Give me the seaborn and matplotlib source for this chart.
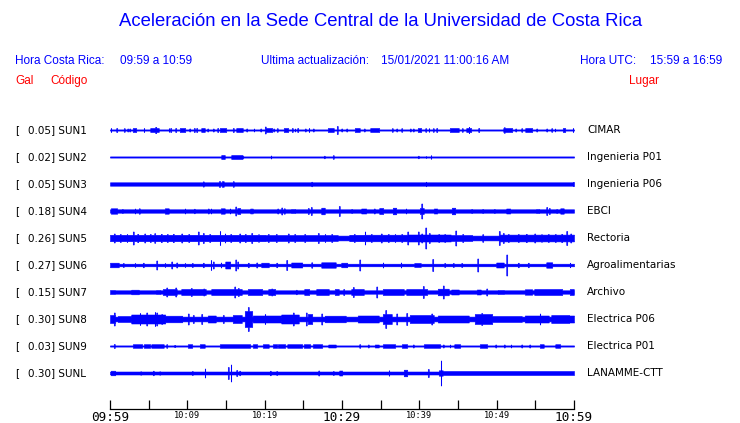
import numpy as np
import matplotlib
matplotlib.use("Agg")
import matplotlib.pyplot as plt
import seaborn as sns

# =========================
# Data
# =========================
TITLE = "Aceleración en la Sede Central de la Universidad de Costa Rica"
LOCAL_LABEL = "Hora Costa Rica:"
LOCAL_RANGE = "09:59 a 10:59"
UPDATE_LABEL = "Ultima actualización:"
UPDATE_TIME = "15/01/2021 11:00:16 AM"
UTC_LABEL = "Hora UTC:"
UTC_RANGE = "15:59 a 16:59"

codes = ["SUN1", "SUN2", "SUN3", "SUN4", "SUN5", "SUN6", "SUN7", "SUN8", "SUN9", "SUNL"]
gal_max = [0.05, 0.02, 0.05, 0.18, 0.26, 0.27, 0.15, 0.30, 0.03, 0.30]
places = ["CIMAR", "Ingenieria P01", "Ingenieria P06", "EBCI", "Rectoria",
          "Agroalimentarias", "Archivo", "Electrica P06", "Electrica P01", "LANAMME-CTT"]

# minutes after 09:59
tick_minutes = list(range(0, 61, 5))
tick_labels = ["09:59", "", "10:09", "", "10:19", "", "10:29", "", "10:39", "", "10:49", "", "10:59"]
big_labels = ["09:59", "10:29", "10:59"]

# background half-amplitude of each trace (relative counts)
floors = [0.6, 0.6, 1.7, 1.7, 2.4, 1.3, 1.7, 2.4, 0.6, 1.5]

# bursts: (start minute, end minute, half-amplitude)
bursts_sun1 = [
    (0.13, 0.13, 2), (0.86, 0.86, 2), (1.85, 1.85, 1.8), (2.28, 2.28, 1.5), (2.58, 2.58, 1.5),
    (3.0, 3.35, 2), (4.4, 4.4, 2), (5.25, 6.25, 2), (5.9, 5.9, 3.2), (7.63, 7.63, 1.8),
    (7.85, 7.85, 2), (8.49, 8.49, 2), (9.05, 9.7, 2), (10.3, 10.3, 1.5), (10.9, 10.9, 2),
    (11.2, 11.2, 2), (11.85, 12.2, 2), (12.63, 12.63, 1.5), (13.36, 13.36, 1.5), (13.92, 13.92, 2),
    (14.22, 14.95, 2), (15.95, 15.95, 2), (16.38, 17.11, 2), (17.67, 17.67, 1.5), (18.62, 18.62, 1.5),
    (19.52, 19.52, 1.5), (20.04, 20.9, 2), (20.08, 20.08, 3.5), (21.2, 21.2, 1.5), (21.6, 21.6, 1.8),
    (22.5, 23.0, 2), (23.57, 23.57, 2), (23.92, 23.92, 1.5), (24.27, 24.27, 2), (25.26, 25.26, 1.5),
    (25.73, 25.73, 2), (26.3, 26.3, 1.5), (28.23, 28.88, 2), (29.4, 29.4, 4), (29.95, 29.95, 1.5),
    (30.6, 30.6, 1.5), (31.68, 32.24, 2), (32.9, 32.9, 1.5), (33.71, 34.78, 2), (36.5, 36.5, 1.8),
    (37.07, 37.07, 1.5), (37.7, 37.7, 1.8), (38.8, 38.8, 1.5), (39.2, 39.2, 1.5), (39.87, 40.17, 2),
    (40.82, 40.82, 1.8), (41.25, 41.25, 1.8), (41.81, 41.81, 1.8), (42.24, 42.24, 2), (43.97, 45.04, 2),
    (45.56, 45.56, 1.8), (46.12, 46.68, 2), (46.42, 46.42, 3.2), (47.71, 47.71, 2), (50.9, 51.94, 2),
    (51.0, 51.0, 2.8), (52.46, 52.46, 1.5), (53.23, 53.23, 1.8), (53.75, 54.53, 2), (55.17, 55.17, 1.5),
    (56.46, 56.46, 1.5), (57.11, 57.11, 1.8), (57.54, 57.54, 1.5), (58.62, 58.62, 2), (58.83, 58.83, 2),
    (59.87, 59.87, 2),
]
bursts_sun2 = [
    (14.44, 14.78, 2), (15.73, 16.4, 2), (16.5, 17.03, 2), (17.15, 17.15, 1.5), (20.82, 20.82, 1.5),
    (27.7, 27.7, 1.3), (28.88, 28.88, 1.8), (39.87, 39.87, 1.3), (40.86, 40.86, 1.0), (41.51, 41.51, 1.8),
]
bursts_sun3 = [
    (12.07, 12.07, 2.6), (14.14, 14.2, 2.8), (14.5, 14.65, 2.8), (15.95, 15.95, 2.8),
    (26.08, 26.08, 2.3), (40.86, 40.86, 2.3), (59.9, 59.9, 2.2),
]
bursts_sun4 = [
    (0.13, 0.86, 2.7), (1.6, 1.6, 2), (3.23, 3.23, 2.5), (3.79, 3.79, 2.7), (7.11, 7.54, 2.7),
    (9.7, 9.7, 2.5), (10.9, 10.9, 2.3), (12.7, 12.7, 2.5), (13.06, 13.06, 2.5), (14.35, 14.78, 2.7),
    (15.52, 15.52, 2.5), (16.25, 16.25, 4.5), (16.5, 16.8, 3), (18.19, 18.19, 2.5), (18.4, 18.4, 2.5),
    (21.68, 21.68, 2.5), (22.2, 22.2, 3.5), (22.54, 22.54, 2.7), (23.5, 23.9, 2), (25.65, 25.65, 3),
    (26.0, 26.0, 4), (27.37, 27.7, 3.3), (29.65, 29.65, 5), (31.25, 31.25, 2), (32.54, 33.06, 2.5),
    (34.18, 34.18, 2.5), (34.9, 35.3, 3), (36.64, 36.98, 3.3), (38.28, 38.28, 2.5), (40.09, 40.52, 3),
    (40.3, 40.3, 7.5), (41.9, 42.24, 2.5), (44.27, 44.6, 3.3), (46.77, 46.77, 2), (48.19, 48.19, 2),
    (49.7, 49.7, 2), (51.3, 51.72, 2.5), (55.17, 55.47, 2), (56.46, 56.46, 4), (56.81, 56.81, 3),
    (57.76, 57.76, 2), (58.3, 58.62, 2.7),
]
bursts_sun5 = [
    (0.0, 11.0, 3.2), (0.56, 0.56, 4.5), (1.3, 1.3, 4), (2.2, 2.2, 4), (3.02, 3.02, 6.5),
    (3.6, 3.6, 4.2), (4.5, 4.5, 4.5), (5.2, 5.2, 4), (5.8, 5.8, 4.8), (6.6, 6.6, 4.2),
    (7.4, 7.4, 4), (8.2, 8.2, 4.2), (9.3, 9.3, 4.5), (10.2, 10.2, 4),
    (11.0, 20.0, 3.2), (11.42, 11.42, 6.5), (12.07, 12.07, 5), (12.9, 12.9, 4), (14.22, 14.22, 7),
    (14.87, 14.87, 4.5), (15.6, 15.6, 4), (16.8, 16.8, 4.5), (17.5, 17.5, 4), (18.32, 18.32, 5),
    (19.2, 19.2, 4),
    (20.0, 29.4, 3.0), (20.47, 20.47, 4), (21.5, 21.5, 4), (23.06, 23.06, 4.5), (23.9, 23.9, 4),
    (25.2, 25.2, 4), (26.94, 26.94, 5), (27.8, 27.8, 4), (28.66, 28.66, 4),
    (31.0, 32.8, 3.2), (31.6, 31.6, 4), (32.97, 32.97, 6.5),
    (33.0, 38.5, 3.3), (33.8, 33.8, 4), (35.1, 35.1, 4.5), (36.0, 36.0, 4), (36.85, 36.85, 4),
    (37.7, 37.7, 4), (38.49, 38.49, 6.5),
    (38.5, 44.0, 3.5), (39.87, 39.87, 6.5), (40.3, 40.3, 4.5), (40.82, 40.82, 10.5), (41.3, 41.3, 5),
    (42.5, 42.5, 4), (43.3, 43.3, 4), (44.7, 44.7, 7.5),
    (44.0, 46.8, 3.0), (45.6, 45.6, 4), (48.2, 48.2, 3.8), (50.34, 50.34, 7), (50.86, 50.86, 5),
    (50.3, 60.0, 3.4), (51.5, 51.5, 4), (52.8, 52.8, 4), (53.8, 53.8, 4.2), (54.95, 54.95, 4.5),
    (55.8, 55.8, 4), (56.68, 56.68, 4), (57.6, 57.6, 4), (58.4, 58.4, 4.2), (59.05, 59.05, 7),
    (59.6, 59.6, 4.5),
]
bursts_sun6 = [
    (0.0, 1.08, 2.3), (1.72, 1.72, 2), (3.23, 3.23, 2), (4.31, 4.31, 2.3), (6.03, 6.03, 4.5),
    (7.11, 7.11, 2), (7.97, 7.97, 3.5), (8.62, 8.62, 2.5), (9.7, 9.7, 2), (10.65, 10.65, 2),
    (12.07, 12.07, 2.3), (13.06, 13.06, 5), (13.36, 13.36, 3.5), (14.35, 14.35, 2.5), (14.95, 15.52, 3.5),
    (16.25, 16.25, 5.5), (16.5, 16.5, 3.5), (17.89, 17.89, 2.3), (18.97, 18.97, 2.5), (19.6, 20.5, 2.3),
    (21.55, 21.55, 2.3), (22.84, 22.84, 5), (23.5, 24.8, 2.5), (26.08, 26.08, 2.7), (27.37, 29.1, 2.7),
    (29.95, 30.6, 2.3), (32.3, 32.3, 5.5), (35.3, 35.3, 2.5), (37.63, 37.63, 2.5), (39.4, 40.1, 2),
    (41.72, 41.72, 6), (43.3, 43.3, 2), (44.4, 44.4, 2), (45.5, 45.5, 2), (47.54, 47.54, 6.5),
    (50.0, 50.86, 2.5), (51.3, 51.3, 10.5), (52.8, 52.8, 2.3), (54.1, 54.1, 2.3), (56.46, 57.1, 2.7),
    (59.48, 59.48, 2.3),
]
bursts_sun7 = [
    (0.0, 0.56, 2), (2.8, 3.66, 2.3), (6.03, 6.46, 2), (6.9, 8.6, 3), (7.33, 7.33, 4.5),
    (8.5, 8.5, 4.5), (9.27, 12.3, 3), (10.5, 10.5, 4), (12.1, 12.1, 3.5), (13.15, 17.0, 3),
    (16.15, 16.15, 5.5), (16.6, 16.6, 4), (17.9, 19.6, 3), (20.5, 21.3, 3), (20.9, 20.9, 3.5),
    (24.1, 24.1, 2.3), (25.2, 25.7, 3), (26.7, 28.2, 3), (29.1, 29.5, 3), (30.2, 30.2, 3),
    (31.25, 32.76, 3), (31.46, 31.46, 5), (34.48, 34.48, 5.5), (35.3, 37.9, 3), (38.36, 40.95, 3),
    (40.5, 40.5, 6), (42.46, 43.75, 3.3), (43.1, 43.1, 6.5), (44.2, 45.04, 2.5), (47.5, 47.85, 2.5),
    (48.7, 48.7, 3.5), (50.2, 50.86, 2), (53.66, 54.53, 2.7), (54.95, 58.4, 3), (59.5, 59.9, 3),
]
bursts_sun8 = [
    (0.0, 0.65, 4), (0.56, 0.56, 6.5), (1.08, 2.6, 3), (2.8, 7.1, 4.5), (3.88, 3.88, 6),
    (4.74, 4.74, 6.5), (5.82, 5.82, 7), (6.03, 6.03, 6.5), (6.68, 6.68, 5), (7.1, 9.3, 3.3),
    (10.1, 10.1, 5.5), (10.78, 10.78, 4), (11.85, 11.85, 5), (12.7, 13.6, 3.5), (14.65, 14.65, 4),
    (15.95, 17.0, 4), (17.46, 18.32, 8), (17.89, 17.89, 12), (18.5, 22.0, 3.5), (20.04, 20.04, 5),
    (22.2, 24.35, 4.5), (23.7, 23.7, 6.5), (25.4, 25.4, 6.5), (25.6, 26.1, 5), (27.37, 27.37, 5.5),
    (27.8, 30.4, 3.3), (32.1, 34.7, 3.5), (35.3, 36.4, 5), (35.65, 35.65, 9), (37.07, 37.07, 5.5),
    (38.36, 38.36, 6), (38.8, 41.8, 4), (41.6, 41.6, 5.5), (42.46, 46.3, 3.5), (47.2, 49.4, 5),
    (48.05, 48.05, 6), (49.4, 53.2, 3), (53.66, 56.68, 3.5), (55.6, 55.6, 5.5), (57.1, 59.3, 4),
    (59.3, 60.0, 3.5),
]
bursts_sun9 = [
    (0.56, 0.56, 2), (3.0, 4.1, 1.8), (4.44, 5.17, 1.8), (5.4, 6.9, 1.8), (7.33, 7.33, 1.8),
    (8.4, 8.4, 1.2), (10.1, 10.55, 1.8), (11.64, 12.2, 1.8), (14.22, 18.1, 1.8), (18.5, 18.96, 1.8),
    (19.8, 20.47, 1.8), (21.1, 21.55, 1.8), (21.76, 22.63, 1.8), (22.97, 24.8, 1.8), (25.13, 25.86, 1.8),
    (26.3, 27.37, 1.8), (28.3, 29.1, 1.5), (32.3, 32.3, 1.8), (33.4, 33.4, 1.5), (34.27, 34.7, 1.5),
    (35.3, 36.85, 1.8), (37.8, 38.36, 1.8), (39.2, 39.2, 1.5), (40.65, 42.67, 1.8), (43.1, 43.1, 1.5),
    (43.97, 43.97, 1.5), (44.6, 45.26, 1.8), (47.85, 48.7, 1.8), (49.87, 49.87, 1.5), (51.0, 51.0, 1.5),
    (51.85, 51.85, 1.5), (53.23, 53.23, 1.5), (54.3, 54.3, 1.5), (55.6, 56.0, 1.8), (57.63, 58.19, 1.8),
]
bursts_sunl = [
    (0.13, 0.65, 2.3), (2.37, 2.37, 1.5), (3.96, 3.96, 1.7), (5.6, 5.6, 2.3), (6.46, 6.46, 1.7),
    (10.65, 10.65, 2), (12.28, 12.28, 4.5), (15.3, 15.3, 6), (15.65, 15.65, 8.5), (16.38, 16.38, 3),
    (16.8, 16.8, 2.3), (19.6, 19.6, 1.5), (20.7, 20.7, 2.3), (21.55, 21.55, 2), (23.5, 23.5, 1.5),
    (27.0, 27.0, 2.5), (28.88, 28.88, 2), (29.7, 30.0, 2.5), (36.08, 36.08, 2.7), (38.06, 38.36, 3.3),
    (41.16, 41.16, 4), (42.6, 42.95, 2.7), (42.8, 42.8, 12.5), (42.95, 60.0, 2.0),
]
bursts = [bursts_sun1, bursts_sun2, bursts_sun3, bursts_sun4, bursts_sun5,
          bursts_sun6, bursts_sun7, bursts_sun8, bursts_sun9, bursts_sunl]

# =========================
# Style
# =========================
BLUE = "#0000FF"
RED = "#FF0000"
W, H = 740, 423
ROW_GAP = 27.0          # vertical distance between traces (display units)

sns.set_theme(style="white")
plt.rcParams.update({
    "font.family": ["DejaVu Sans"],
    "axes.spines.top": False,
    "axes.spines.right": False,
    "axes.spines.left": False,
})

fig = plt.figure(figsize=(W / 100, H / 100), dpi=100)
fig.patch.set_facecolor("white")


def px(x, y):
    return x / W, 1 - y / H


# axes spans x 110..574 px, y 110..409 px
ax = fig.add_axes([110 / W, (H - 409) / H, 464 / W, 299 / H])
ax.set_facecolor("white")

# =========================
# Traces
# =========================
xs = np.linspace(0, 60, 929)
half_step = 0.06
for i, (floor, blist) in enumerate(zip(floors, bursts)):
    yc = -ROW_GAP * i
    env = np.full_like(xs, floor)
    for t0, t1, amp in blist:
        m = (xs >= t0 - half_step) & (xs <= t1 + half_step)
        env[m] = np.maximum(env[m], amp)
    ax.fill_between(xs, yc - env, yc + env, step="mid", color=BLUE, linewidth=0.4)

ax.set_xlim(0, 60)
ax.set_ylim(-279, 20)
ax.set_yticks([])

ax.spines["bottom"].set_color("black")
ax.spines["bottom"].set_linewidth(0.9)
ax.set_xticks(tick_minutes)
ax.set_xticklabels(tick_labels)
ax.tick_params(axis="x", direction="in", length=6.5, width=0.9, color="black", pad=1.2,
               bottom=True)
for lab in ax.get_xticklabels():
    lab.set_family("DejaVu Sans Mono")
    lab.set_color("black")
    if lab.get_text() in big_labels:
        lab.set_fontsize(9.2)
    else:
        lab.set_fontsize(6.2)

# =========================
# Row labels
# =========================
for i, (code, g, place) in enumerate(zip(codes, gal_max, places)):
    y = 130 + ROW_GAP * i
    fig.text(*px(15, y), "[", fontsize=7.5, color="black", va="center", ha="left")
    fig.text(*px(27.5, y), f"{g:.2f}] {code}", fontsize=7.5, color="black", va="center", ha="left")
    fig.text(*px(587, y), place, fontsize=7.5, color="black", va="center", ha="left")

# =========================
# Header
# =========================
hdr = ["Liberation Sans", "DejaVu Sans"]
fs = 8.5
fig.text(*px(381, 21), TITLE, fontsize=13.3, color=BLUE, ha="center", va="center", family=hdr)
fig.text(*px(15, 61), LOCAL_LABEL, fontsize=fs, color=BLUE, ha="left", va="center", family=hdr)
fig.text(*px(120, 61), LOCAL_RANGE, fontsize=fs, color=BLUE, ha="left", va="center", family=hdr)
fig.text(*px(261, 61), UPDATE_LABEL, fontsize=fs, color=BLUE, ha="left", va="center", family=hdr)
fig.text(*px(381, 61), UPDATE_TIME, fontsize=fs, color=BLUE, ha="left", va="center", family=hdr)
fig.text(*px(580, 61), UTC_LABEL, fontsize=fs, color=BLUE, ha="left", va="center", family=hdr)
fig.text(*px(650, 61), UTC_RANGE, fontsize=fs, color=BLUE, ha="left", va="center", family=hdr)
fig.text(*px(15, 81), "Gal", fontsize=fs, color=RED, ha="left", va="center", family=hdr)
fig.text(*px(50, 81), "Código", fontsize=fs, color=RED, ha="left", va="center", family=hdr)
fig.text(*px(629, 81), "Lugar", fontsize=fs, color=RED, ha="left", va="center", family=hdr)

fig.savefig("out.png", dpi=100, facecolor="white")
